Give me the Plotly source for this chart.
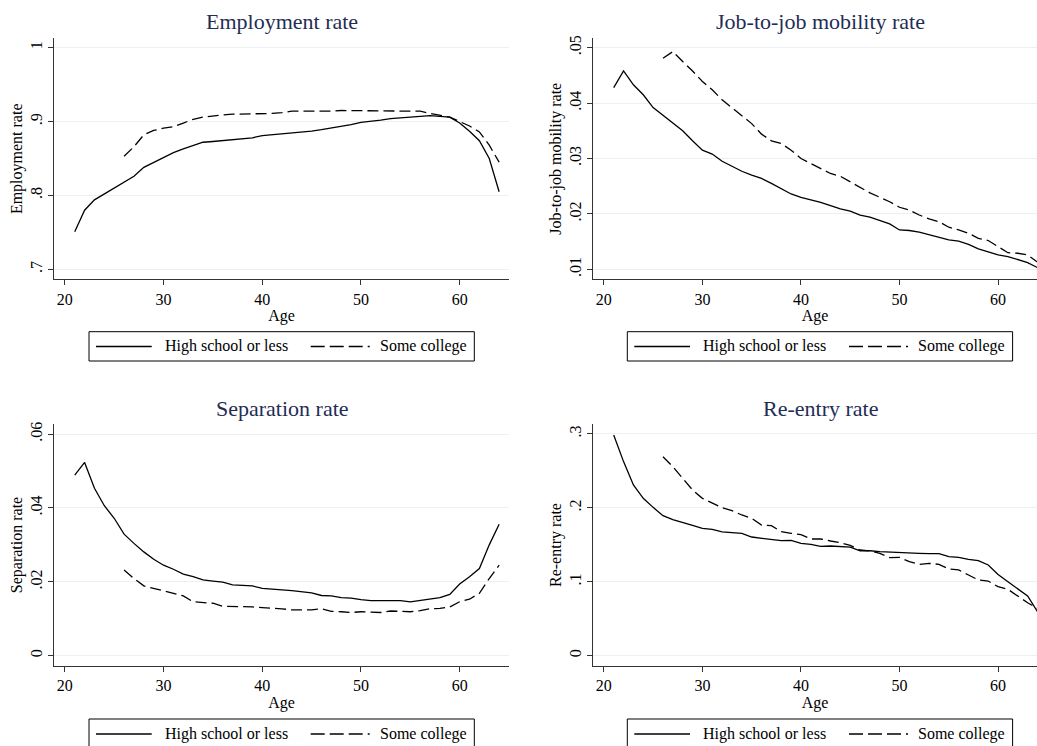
import plotly.graph_objects as go

# ages
age_hs = list(range(21, 65))
age_sc = list(range(26, 65))

# Employment rate
emp_hs = [0.751, 0.780, 0.794, 0.802, 0.809, 0.817, 0.826, 0.838, 0.845, 0.852,
          0.858, 0.863, 0.868, 0.872, 0.873, 0.874, 0.875, 0.877, 0.878, 0.881,
          0.882, 0.883, 0.884, 0.886, 0.887, 0.889, 0.891, 0.893, 0.896, 0.899,
          0.900, 0.902, 0.904, 0.905, 0.907, 0.908, 0.908, 0.907, 0.906, 0.898,
          0.887, 0.874, 0.850, 0.805]
emp_sc = [0.853, 0.866, 0.882, 0.888, 0.891, 0.893, 0.898, 0.903, 0.906, 0.908,
          0.909, 0.910, 0.910, 0.910, 0.910, 0.911, 0.912, 0.914, 0.914, 0.914,
          0.913, 0.914, 0.915, 0.915, 0.915, 0.915, 0.914, 0.914, 0.914, 0.914,
          0.914, 0.911, 0.908, 0.906, 0.900, 0.894, 0.886, 0.868, 0.845]

# Job-to-job mobility rate
j2j_hs = [0.0428, 0.0458, 0.0433, 0.0415, 0.0392, 0.0378, 0.0365, 0.0350, 0.0332, 0.0315,
          0.0308, 0.0295, 0.0286, 0.0277, 0.0270, 0.0264, 0.0255, 0.0246, 0.0236, 0.0230,
          0.0226, 0.0221, 0.0215, 0.0209, 0.0205, 0.0198, 0.0194, 0.0188, 0.0182, 0.0171,
          0.0170, 0.0167, 0.0162, 0.0158, 0.0153, 0.0151, 0.0145, 0.0137, 0.0132, 0.0126,
          0.0123, 0.0117, 0.0112, 0.0103]
j2j_sc = [0.0481, 0.0493, 0.0475, 0.0458, 0.0439, 0.0424, 0.0406, 0.0392, 0.0378, 0.0363,
          0.0344, 0.0332, 0.0327, 0.0315, 0.0300, 0.0291, 0.0282, 0.0273, 0.0268, 0.0258,
          0.0248, 0.0238, 0.0230, 0.0222, 0.0212, 0.0207, 0.0198, 0.0191, 0.0186, 0.0176,
          0.0171, 0.0165, 0.0156, 0.0152, 0.0141, 0.0130, 0.0129, 0.0126, 0.0113]

# Separation rate
sep_hs = [0.0489, 0.0523, 0.0453, 0.0406, 0.0372, 0.0329, 0.0304, 0.0281, 0.0261, 0.0245,
          0.0234, 0.0221, 0.0214, 0.0205, 0.0202, 0.0199, 0.0192, 0.0191, 0.0189, 0.0182,
          0.0179, 0.0178, 0.0176, 0.0172, 0.0170, 0.0163, 0.0162, 0.0157, 0.0156, 0.0152,
          0.0149, 0.0149, 0.0149, 0.0149, 0.0146, 0.0149, 0.0152, 0.0157, 0.0166, 0.0194,
          0.0214, 0.0236, 0.0300, 0.0356]
sep_sc = [0.0232, 0.0209, 0.0189, 0.0182, 0.0175, 0.0169, 0.0162, 0.0146, 0.0145, 0.0142,
          0.0134, 0.0134, 0.0133, 0.0132, 0.0130, 0.0129, 0.0127, 0.0124, 0.0124, 0.0124,
          0.0127, 0.0120, 0.0119, 0.0117, 0.0119, 0.0119, 0.0117, 0.0121, 0.0120, 0.0119,
          0.0122, 0.0127, 0.0128, 0.0132, 0.0146, 0.0153, 0.0169, 0.0209, 0.0245]

# Re-entry rate
ree_hs = [0.2986, 0.2626, 0.2310, 0.2130, 0.2007, 0.1895, 0.1840, 0.1805, 0.1764, 0.1723,
          0.1710, 0.1674, 0.1665, 0.1656, 0.1606, 0.1592, 0.1579, 0.1556, 0.1561, 0.1520,
          0.1507, 0.1480, 0.1484, 0.1480, 0.1470, 0.1420, 0.1420, 0.1408, 0.1400, 0.1400,
          0.1385, 0.1385, 0.1380, 0.1380, 0.1340, 0.1331, 0.1304, 0.1286, 0.1227, 0.1100,
          0.1000, 0.0898, 0.0808, 0.0596]
ree_sc = [0.2693, 0.2558, 0.2400, 0.2242, 0.2129, 0.2062, 0.2003, 0.1962, 0.1904, 0.1859,
          0.1768, 0.1759, 0.1678, 0.1656, 0.1638, 0.1579, 0.1579, 0.1552, 0.1529, 0.1493,
          0.1430, 0.1417, 0.1385, 0.1326, 0.1331, 0.1272, 0.1236, 0.1250, 0.1236, 0.1173,
          0.1160, 0.1092, 0.1024, 0.1010, 0.0934, 0.0898, 0.0808, 0.0717, 0.0640]

titles = ["Employment rate", "Job-to-job mobility rate", "Separation rate", "Re-entry rate"]
ytick_vals = [[0.7, 0.8, 0.9, 1.0], [0.01, 0.02, 0.03, 0.04, 0.05],
              [0, 0.02, 0.04, 0.06], [0, 0.1, 0.2, 0.3]]
ytick_text = [[".7", ".8", ".9", "1"], [".01", ".02", ".03", ".04", ".05"],
              ["0", ".02", ".04", ".06"], ["0", ".1", ".2", ".3"]]
yranges = [[0.6865, 1.0127], [0.008195, 0.0517], [-0.0027, 0.06263], [-0.01353, 0.3131]]
xranges = [[18.9, 65.0], [18.9, 63.95], [18.9, 65.0], [18.9, 63.95]]
series = [(emp_hs, emp_sc), (j2j_hs, j2j_sc), (sep_hs, sep_sc), (ree_hs, ree_sc)]
names = ["High school or less", "Some college"]

W, H = 1037, 746
FONT = "Liberation Serif"
TITLE_COL = "#1f2d55"
GRID = "#eaf1f3"
DASH = "11px,5px"

# panel pixel boxes
px_x = [(54, 509), (593, 1037), (54, 509), (593, 1037)]
px_y = [(38.3, 279.3), (38.3, 279.3), (424.3, 665.7), (424.3, 665.7)]
title_pos = [(282, 21.7), (820, 21.7), (282, 408.3), (820, 408.3)]
# legend box: left x, top y, line y
legend_box = [(89, 331.7, 346.5), (627.3, 331.7, 346.5), (89, 719, 734), (627.3, 719, 734)]
LEG_W, LEG_H = 385.3, 29.3


def px(x):
    return x / W


def py(y):
    return 1 - y / H


fig = go.Figure()
for i, (hs, sc) in enumerate(series):
    n = i + 1
    xa = "x" if n == 1 else "x%d" % n
    ya = "y" if n == 1 else "y%d" % n
    fig.add_trace(go.Scatter(x=age_hs, y=hs, mode="lines", name=names[0],
                             line=dict(color="black", width=1.3),
                             xaxis=xa, yaxis=ya, showlegend=False))
    fig.add_trace(go.Scatter(x=age_sc, y=sc, mode="lines", name=names[1],
                             line=dict(color="black", width=1.3, dash=DASH),
                             xaxis=xa, yaxis=ya, showlegend=False))

layout = dict(
    width=W, height=H,
    margin=dict(l=0, r=0, t=0, b=0, autoexpand=False),
    paper_bgcolor="white", plot_bgcolor="white",
    font=dict(family=FONT, size=16, color="black"),
    annotations=[], shapes=[],
)
for i in range(4):
    n = i + 1
    sfx = "" if n == 1 else str(n)
    x0, x1 = px_x[i]
    y0, y1 = px_y[i]
    layout["xaxis" + sfx] = dict(
        domain=[px(x0), px(x1)], range=xranges[i], anchor="y" + sfx,
        tickvals=[20, 30, 40, 50, 60], ticks="outside", ticklen=5, tickcolor="#333",
        showline=True, linecolor="#333", linewidth=1, showgrid=False, zeroline=False,
        title=dict(text="Age", standoff=0, font=dict(size=16)),
        tickfont=dict(size=16),
    )
    layout["yaxis" + sfx] = dict(
        domain=[py(y1), py(y0)], range=yranges[i], anchor="x" + sfx,
        tickvals=ytick_vals[i], ticktext=ytick_text[i], tickangle=-90,
        ticks="outside", ticklen=5, tickcolor="#333",
        showline=True, linecolor="#333", linewidth=1,
        showgrid=True, gridcolor=GRID, gridwidth=1, zeroline=False,
        title=dict(text=titles[i], standoff=0, font=dict(size=16)),
        tickfont=dict(size=16),
    )
    tx, ty = title_pos[i]
    layout["annotations"].append(dict(
        text=titles[i], x=px(tx), y=py(ty), xref="paper", yref="paper",
        xanchor="center", yanchor="middle", showarrow=False,
        font=dict(size=22, color=TITLE_COL, family=FONT)))

    # legend drawn as a framed key under each panel
    bx, by, ly = legend_box[i]
    layout["shapes"].append(dict(
        type="rect", xref="paper", yref="paper",
        x0=px(bx), x1=px(bx + LEG_W), y0=py(by), y1=py(by + LEG_H),
        line=dict(color="black", width=1), fillcolor="white", layer="above"))
    layout["shapes"].append(dict(
        type="line", xref="paper", yref="paper",
        x0=px(bx + 7), x1=px(bx + 62.7), y0=py(ly), y1=py(ly),
        line=dict(color="black", width=1.3)))
    layout["shapes"].append(dict(
        type="line", xref="paper", yref="paper",
        x0=px(bx + 221.7), x1=px(bx + 281), y0=py(ly), y1=py(ly),
        line=dict(color="black", width=1.3, dash="14px,5px,14px,5px,14px,5px,2px")))
    for tx_off, label in [(74, names[0]), (289, names[1])]:
        layout["annotations"].append(dict(
            text=label, x=px(bx + tx_off), y=py(ly), xref="paper", yref="paper",
            xanchor="left", yanchor="middle", showarrow=False,
            font=dict(size=16, family=FONT, color="black")))

fig.update_layout(**layout)
fig.write_html("out.html", config={"displayModeBar": False},
               post_script="document.body.style.margin = '0';")
